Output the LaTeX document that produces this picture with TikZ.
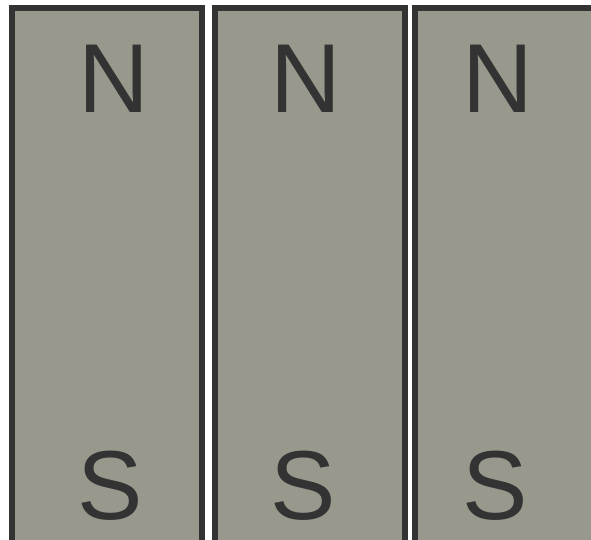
\documentclass[tikz,border=0pt]{standalone}
\usepackage{fontspec}
\setmainfont{Liberation Sans}
\usepackage{tikz}
\usetikzlibrary{positioning}

\definecolor{magnetgray}{RGB}{152,152,140}
\definecolor{edgedark}{RGB}{51,51,51}

\tikzset{
  magnet/.style={fill=magnetgray,draw=edgedark,line width=6pt},
  pole/.style={text=edgedark,anchor=base,inner sep=0pt,
    font=\fontsize{98}{98}\selectfont}
}

\begin{document}
\begin{tikzpicture}[x=1pt,y=-1pt]
  \useasboundingbox (0,0) rectangle (591,540);
  \clip (0,0) rectangle (591,540);
  % three bar magnets side by side
  \draw[magnet] (12,8) rectangle (201.5,570);
  \draw[magnet] (214.5,8) rectangle (404.5,570);
  \draw[magnet] (414.5,8) rectangle (604,570);
  % pole labels
  \node[pole] (n1) at (114,113) {N};
  \node[pole] (s1) at (110.5,519) {S};
  \node[pole] (n2) at (305.5,113) {N};
  \node[pole] (s2) at (303.5,519) {S};
  \node[pole] (n3) at (498,113) {N};
  \node[pole] (s3) at (495.5,519) {S};
\end{tikzpicture}
\end{document}
